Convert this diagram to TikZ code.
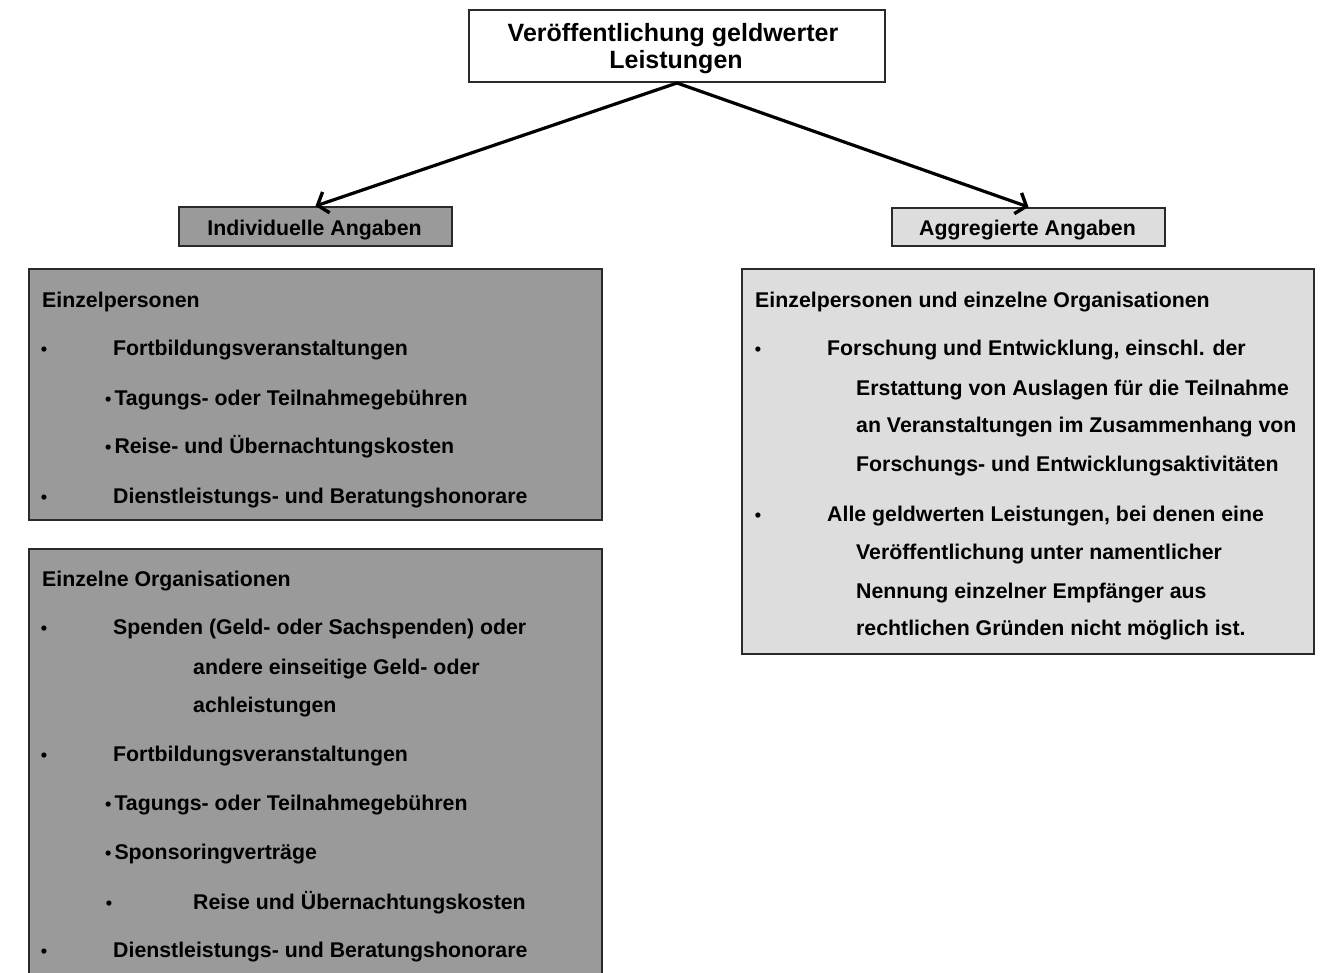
\documentclass[tikz,border=0pt]{standalone}
\usepackage{fontspec}
\setmainfont{Liberation Sans}
\usetikzlibrary{positioning,arrows.meta}
\definecolor{darkfill}{HTML}{9A9A9A}
\definecolor{lightfill}{HTML}{DDDDDD}
\definecolor{rim}{HTML}{2A2A2A}
\tikzset{
    % Box styles
    panel/.style={rectangle, draw=rim, line width=2pt, inner sep=0pt, anchor=north west},
    dark panel/.style={panel, fill=darkfill},
    light panel/.style={panel, fill=lightfill},
    % Text styles
    txt/.style={anchor=base west, inner sep=0pt, font=\bfseries\fontsize{21.3}{25}\selectfont},
    title txt/.style={anchor=base, inner sep=0pt, font=\bfseries\fontsize{25}{29}\selectfont},
    dot/.style={anchor=base, inner sep=0pt, font=\bfseries\fontsize{18}{22}\selectfont},
}
\newcommand{\subdot}{{\fontsize{18}{22}\selectfont•}\hspace{3pt}}

\begin{document}
\begin{tikzpicture}[
    x=1pt, y=-1pt,
    arrow/.style={-{Straight Barb[length=9pt, width=22pt, line width=3.4pt]}, line width=3.2pt},
]
    \clip (0,0) rectangle (1325,972);
    \fill[white] (0,0) rectangle (1325,972);

    % Title
    \node[panel, fill=white, minimum width=416pt, minimum height=72pt] (title) at (468,9) {};
    \node[title txt] (t1) at (673,41) {Veröffentlichung geldwerter};
    \node[title txt] (t2) at (676,68) {Leistungen};

    % Headers
    \node[dark panel, minimum width=273pt, minimum height=39pt] (indiv) at (178,206) {};
    \node[txt, anchor=base] (indivtxt) at (314.5,235) {Individuelle Angaben};
    \node[light panel, minimum width=273pt, minimum height=38pt] (aggr) at (891,207) {};
    \node[txt, anchor=base] (aggrtxt) at (1027.5,235) {Aggregierte Angaben};

    % Arrows
    \draw[arrow] (title.south) -- (indiv.north);
    \draw[arrow] (title.south) -- (aggr.north);

    % Individual: persons
    \node[dark panel, minimum width=573pt, minimum height=251pt] (persbox) at (28,268) {};
    \node[txt] (p0) at (42,307) {Einzelpersonen};
    \node[dot] (pb1) at (44,355) {•};
    \node[txt] (p1) at (113,355) {Fortbildungsveranstaltungen};
    \node[txt] (p2) at (105,405) {\subdot Tagungs- oder Teilnahmegebühren};
    \node[txt] (p3) at (105,453) {\subdot Reise- und Übernachtungskosten};
    \node[dot] (pb4) at (44,503) {•};
    \node[txt] (p4) at (113,503) {Dienstleistungs- und Beratungshonorare};

    % Individual: organisations
    \node[dark panel, minimum width=573pt, minimum height=450pt] (orgbox) at (28,548) {};
    \node[txt] (o0) at (42,586) {Einzelne Organisationen};
    \node[dot] (ob1) at (44,634) {•};
    \node[txt] (o1) at (113,634) {Spenden (Geld- oder Sachspenden) oder};
    \node[txt] (o2) at (193,674) {andere einseitige Geld- oder};
    \node[txt] (o3) at (193,712) {achleistungen};
    \node[dot] (ob4) at (44,761) {•};
    \node[txt] (o4) at (113,761) {Fortbildungsveranstaltungen};
    \node[txt] (o5) at (105,810) {\subdot Tagungs- oder Teilnahmegebühren};
    \node[txt] (o6) at (105,859) {\subdot Sponsoringverträge};
    \node[dot] (ob7) at (109,909) {•};
    \node[txt] (o7) at (193,909) {Reise und Übernachtungskosten};
    \node[dot] (ob8) at (44,957) {•};
    \node[txt] (o8) at (113,957) {Dienstleistungs- und Beratungshonorare};

    % Aggregated
    \node[light panel, minimum width=572pt, minimum height=385pt] (aggrbox) at (741,268) {};
    \node[txt] (a0) at (755,307) {Einzelpersonen und einzelne Organisationen};
    \node[dot] (ab1) at (758,355) {•};
    \node[txt] (a1) at (827,355) {Forschung und Entwicklung, einschl. der};
    \node[txt] (a2) at (856,395) {Erstattung von Auslagen für die Teilnahme};
    \node[txt] (a3) at (856,432) {an Veranstaltungen im Zusammenhang von};
    \node[txt] (a4) at (856,471) {Forschungs- und Entwicklungsaktivitäten};
    \node[dot] (ab5) at (758,521) {•};
    \node[txt] (a5) at (827,521) {Alle geldwerten Leistungen, bei denen eine};
    \node[txt] (a6) at (856,559) {Veröffentlichung unter namentlicher};
    \node[txt] (a7) at (856,598) {Nennung einzelner Empfänger aus};
    \node[txt] (a8) at (856,635) {rechtlichen Gründen nicht möglich ist.};
\end{tikzpicture}
\end{document}
